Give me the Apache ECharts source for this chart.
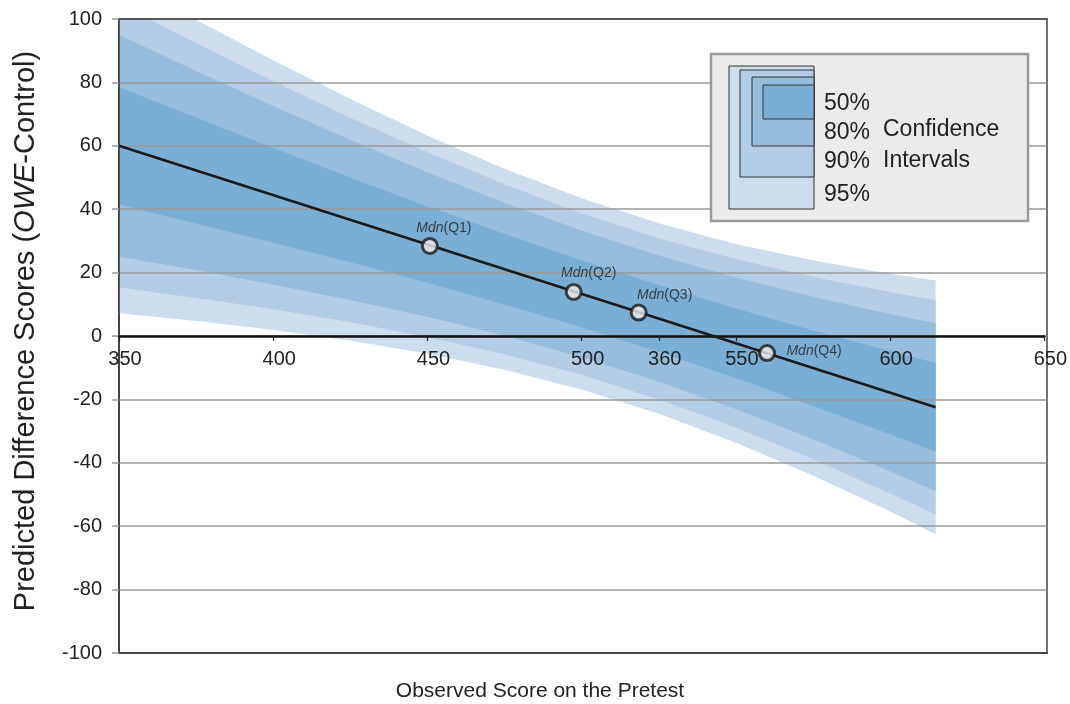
<!DOCTYPE html>
<html>
<head>
<meta charset="utf-8">
<script src="https://cdn.jsdelivr.net/npm/echarts@6/dist/echarts.min.js"></script>
<style>html,body{margin:0;padding:0;background:#fff;}#c{width:1070px;height:704px;}</style>
</head>
<body>
<div id="c"></div>
<script>
// ---- data ----
const xValues  = [350, 375, 400, 425, 450, 475, 500, 525, 550, 575, 600, 614];
const lower95  = [7.2, 4.7, 1.9, -1.5, -5.6, -10.7, -17.0, -24.7, -33.9, -44.3, -55.7, -62.5];
const lower90  = [15.3, 12.0, 8.4, 4.3, -0.4, -5.8, -12.4, -20.1, -29.1, -39.1, -50.0, -56.3];
const lower80  = [25.0, 20.8, 16.2, 11.3, 6.0, 0.0, -6.8, -14.6, -23.3, -32.8, -43.0, -49.0];
const lower50  = [41.5, 35.5, 29.4, 23.2, 16.7, 9.8, 2.6, -5.2, -13.5, -22.3, -31.3, -36.5];
const upper50  = [78.5, 68.9, 59.3, 49.9, 40.8, 32.1, 23.7, 15.9, 8.5, 1.6, -4.9, -8.5];
const upper80  = [95.0, 83.6, 72.5, 61.8, 51.5, 41.9, 33.1, 25.2, 18.3, 12.2, 6.8, 4.0];
const upper90  = [104.7, 92.4, 80.4, 68.8, 57.9, 47.7, 38.6, 30.7, 24.1, 18.5, 13.7, 11.3];
const upper95  = [112.8, 99.7, 86.9, 74.7, 63.1, 52.6, 43.3, 35.4, 28.9, 23.7, 19.5, 17.5];
const lineX    = [350, 614];
const lineY    = [60, -22.5];
const medianX  = [450.5, 497, 518, 559.5];
const medianY  = [28.4, 13.9, 7.4, -5.4];
const medianNames = ['Q1', 'Q2', 'Q3', 'Q4'];
const xTickValues = [350, 400, 450, 500, 525, 550, 600, 650];
const xTickLabels = ['350', '400', '450', '500', '360', '550', '600', '650'];
const legendLabels = ['50%', '80%', '90%', '95%'];

// ---- styling ----
const FONT = "'Liberation Sans', Arial, Helvetica, sans-serif";
const C50 = '#7BAED4', C80 = '#97BDDE', C90 = '#B3CDE6', C95 = '#CDDDED';
const labelOffsets = [[14, -18], [15, -19], [26, -17], [47, -2]];

// bands drawn widest first, each nested inside the previous one
const bands = [
  { lower: lower95, upper: upper95, color: C95 },
  { lower: lower90, upper: upper90, color: C90 },
  { lower: lower80, upper: upper80, color: C80 },
  { lower: lower50, upper: upper50, color: C50 }
];

const series = [
  {
    type: 'custom', clip: true, silent: true, z: 1,
    xAxisIndex: 0, yAxisIndex: 0,
    encode: { x: 0, y: 1 },
    data: bands.map((b, k) => [xValues[0], b.lower[0], k]),
    renderItem: function (params, api) {
      const b = bands[api.value(2)];
      const top = xValues.map((x, i) => api.coord([x, b.upper[i]]));
      const bot = xValues.map((x, i) => api.coord([x, b.lower[i]])).reverse();
      return {
        type: 'polygon',
        shape: { points: top.concat(bot) },
        style: { fill: b.color, stroke: null, lineWidth: 0 }
      };
    }
  },
  {
    type: 'line', data: lineX.map((x, i) => [x, lineY[i]]), symbol: 'none',
    lineStyle: { color: '#1a1a1a', width: 2.6 }, z: 20, silent: true
  },
  {
    type: 'scatter', z: 30, symbol: 'circle', symbolSize: 15,
    itemStyle: { color: '#ededed', borderColor: '#1a1a1a', borderWidth: 3 },
    data: medianX.map((x, i) => ({
      value: [x, medianY[i]],
      label: { offset: labelOffsets[i] }
    })),
    label: {
      show: true, position: 'inside', align: 'center', verticalAlign: 'middle',
      formatter: (p) => '{i|Mdn}{n|(' + medianNames[p.dataIndex] + ')}',
      rich: {
        i: { fontStyle: 'italic', fontSize: 14, color: '#222', fontFamily: FONT },
        n: { fontSize: 14, color: '#222', fontFamily: FONT }
      }
    }
  }
];

// legend graphic
const legendRects = [
  { x: 729, y: 66, w: 85, h: 143, c: C95 },
  { x: 740, y: 70, w: 74, h: 107, c: C90 },
  { x: 752, y: 77, w: 62, h: 69, c: C80 },
  { x: 763, y: 85, w: 51, h: 34, c: C50 }
];
const legendTextY = [104, 133, 162, 195];
const graphic = [
  { type: 'rect', z: 100, shape: { x: 711, y: 54, width: 317, height: 167 },
    style: { fill: '#ebebeb', stroke: '#9a9a9a', lineWidth: 2.5 } }
].concat(legendRects.map(r => ({
  type: 'rect', z: 101, shape: { x: r.x, y: r.y, width: r.w, height: r.h },
  style: { fill: r.c, stroke: '#333', lineWidth: 1 }
}))).concat(legendLabels.map((t, i) => ({
  type: 'text', z: 102, x: 824, y: legendTextY[i],
  style: { text: t, fill: '#222', font: '23px ' + FONT, verticalAlign: 'middle', align: 'left' }
}))).concat([
  { type: 'text', z: 102, x: 883, y: 130,
    style: { text: 'Confidence', fill: '#222', font: '23px ' + FONT, verticalAlign: 'middle', align: 'left' } },
  { type: 'text', z: 102, x: 883, y: 161,
    style: { text: 'Intervals', fill: '#222', font: '23px ' + FONT, verticalAlign: 'middle', align: 'left' } },
  { type: 'text', z: 102, x: 540, y: 691,
    style: { text: 'Observed Score on the Pretest', fill: '#222', font: '21px ' + FONT, verticalAlign: 'middle', align: 'center' } }
]);

const chart = echarts.init(document.getElementById('c'), null, { renderer: 'canvas' });
chart.setOption({
  animation: false,
  backgroundColor: '#ffffff',
  textStyle: { fontFamily: FONT },
  grid: [
    { left: 119, right: 23, top: 19, bottom: 51, show: true, borderColor: '#444', borderWidth: 1.5, backgroundColor: 'transparent' },
    { left: 119, right: 23, top: 316, bottom: 368, show: false }
  ],
  xAxis: [
    {
      gridIndex: 0, type: 'value', min: 350, max: 650, z: 10, position: 'bottom',
      axisLine: { show: true, onZero: false, lineStyle: { color: '#444', width: 2 } },
      axisTick: { show: false }, axisLabel: { show: false }, splitLine: { show: false }
    },
    {
      gridIndex: 0, type: 'value', min: 350, max: 650, position: 'top', z: 10,
      axisLine: { show: true, onZero: false, lineStyle: { color: '#555', width: 2 } },
      axisTick: { show: false }, axisLabel: { show: false }, splitLine: { show: false }
    },
    {
      gridIndex: 1, type: 'value', min: 350, max: 650, position: 'bottom', z: 12,
      axisLine: { show: true, onZero: false, lineStyle: { color: '#111', width: 2.5 } },
      axisTick: { show: true, customValues: xTickValues, length: 5, lineStyle: { color: '#222', width: 1.2 } },
      axisLabel: {
        show: true, customValues: xTickValues, margin: 13, fontSize: 20, color: '#222', fontFamily: FONT,
        padding: [0, 0, 0, 12],
        formatter: (v) => { const k = xTickValues.indexOf(Math.round(v)); return k >= 0 ? xTickLabels[k] : ''; }
      },
      splitLine: { show: false }
    }
  ],
  yAxis: [
    {
      gridIndex: 0, type: 'value', min: -100, max: 100, interval: 20, z: 10,
      name: 'Predicted Difference Scores ({i|OWE}-Control)',
      nameLocation: 'middle', nameGap: 79,
      nameTextStyle: {
        fontSize: 29, color: '#222', fontFamily: FONT, padding: [0, 0, 0, 10],
        rich: { i: { fontStyle: 'italic', fontSize: 29, color: '#222', fontFamily: FONT } }
      },
      axisLine: { show: true, onZero: false, lineStyle: { color: '#333', width: 1.5 } },
      axisTick: { show: true, length: 7, lineStyle: { color: '#999', width: 1.5 } },
      axisLabel: { margin: 17, fontSize: 20, color: '#222', fontFamily: FONT },
      splitLine: { show: true, lineStyle: { color: '#9a9a9a', width: 1.5 } }
    },
    {
      gridIndex: 1, type: 'value', min: 0, max: 1, show: false
    }
  ],
  graphic: graphic,
  series: series
});
</script>
</body>
</html>
